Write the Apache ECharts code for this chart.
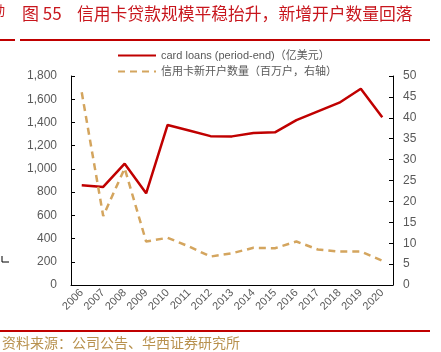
<!DOCTYPE html>
<html><head><meta charset="utf-8">
<script src="https://cdn.jsdelivr.net/npm/echarts@6/dist/echarts.min.js"></script>
<style>html,body{margin:0;padding:0;background:#fff}#c{width:441px;height:352px}</style>
</head><body><div id="c"></div>
<script>
var years = ['2006','2007','2008','2009','2010','2011','2012','2013','2014','2015','2016','2017','2018','2019','2020'];
var cardLoans = [860, 845, 1045, 790, 1378, 1330, 1282, 1280, 1310, 1315, 1420, 1495, 1570, 1690, 1445];
var newAccounts = [46.1, 16.5, 27.9, 10.4, 11.3, 9.2, 6.8, 7.6, 8.9, 8.8, 10.4, 8.5, 8.0, 8.0, 5.8];
var leftTicks = {min: 0, max: 1800, interval: 200};
var rightTicks = {min: 0, max: 50, interval: 5};

var chart = echarts.init(document.getElementById('c'));
var grey = '#595959';
chart.setOption({
  animation: false,
  textStyle: {fontFamily: 'Liberation Sans, Arial, sans-serif'},
  graphic: [
    {type: 'text', left: 22, top: 5, style: {text: '图 55', fill: '#C8161D', font: '17px "Noto Sans CJK SC"'}},
    {type: 'text', left: 77, top: 5, style: {text: '信用卡贷款规模平稳抬升，新增开户数量回落', fill: '#C8161D', font: '16.8px "Noto Sans CJK SC"'}},
    {type: 'text', left: -8, top: 4, style: {text: '动', fill: '#C8161D', font: '13px "Noto Sans CJK SC"'}},
    {type: 'rect', shape: {x: 20, y: 39, width: 410, height: 2}, style: {fill: '#C00000'}},
    {type: 'rect', shape: {x: 0, y: 39, width: 15, height: 2}, style: {fill: '#C00000'}},
    {type: 'rect', shape: {x: 0, y: 330, width: 430, height: 2}, style: {fill: '#C00000'}},
    {type: 'polyline', shape: {points: [[2, 256], [2, 262], [9, 262]]}, style: {stroke: '#000', lineWidth: 1, fill: null}},
    {type: 'text', left: 2, top: 336, style: {text: '资料来源：公司公告、华西证券研究所', fill: '#B8914E', font: '14px "Noto Sans CJK SC"'}}
  ],
  legend: {
    orient: 'vertical', left: 112, top: 45, itemGap: 5, itemWidth: 38, itemHeight: 2,
    itemStyle: {opacity: 0},
    textStyle: {color: grey, fontSize: 11, fontFamily: 'Liberation Sans, "Noto Sans CJK SC"'},
    data: [{name: 'card loans (period-end)（亿美元）'}, {name: '信用卡新开户数量（百万户，右轴）'}]
  },
  grid: {left: 71, right: 48, top: 76, bottom: 67},
  xAxis: {
    type: 'category', data: years, boundaryGap: true,
    axisLine: {lineStyle: {color: '#000', width: 1}},
    axisTick: {inside: true, length: 4, lineStyle: {color: '#000'}},
    axisLabel: {rotate: 45, color: grey, fontSize: 11, margin: 6, interval: 0}
  },
  yAxis: [
    {type: 'value', min: leftTicks.min, max: leftTicks.max, interval: leftTicks.interval,
     axisLine: {show: true, lineStyle: {color: '#000'}},
     axisTick: {show: true, inside: true, length: 4, lineStyle: {color: '#000'}},
     splitLine: {show: false},
     axisLabel: {color: grey, fontSize: 12, margin: 14, formatter: function(v){return v.toLocaleString('en-US');}}},
    {type: 'value', min: rightTicks.min, max: rightTicks.max, interval: rightTicks.interval,
     axisLine: {show: true, lineStyle: {color: '#000'}},
     axisTick: {show: true, inside: true, length: 4, lineStyle: {color: '#000'}},
     splitLine: {show: false},
     axisLabel: {color: grey, fontSize: 12, margin: 10}}
  ],
  series: [
    {name: 'card loans (period-end)（亿美元）', type: 'line', data: cardLoans, yAxisIndex: 0,
     symbol: 'none', lineStyle: {color: '#C00000', width: 2.5}, itemStyle: {color: '#C00000'}},
    {name: '信用卡新开户数量（百万户，右轴）', type: 'line', data: newAccounts, yAxisIndex: 1,
     symbol: 'none', lineStyle: {color: '#D4A55E', width: 2.5, type: [7, 5]}, itemStyle: {color: '#D4A55E'}}
  ]
});
</script></body></html>
